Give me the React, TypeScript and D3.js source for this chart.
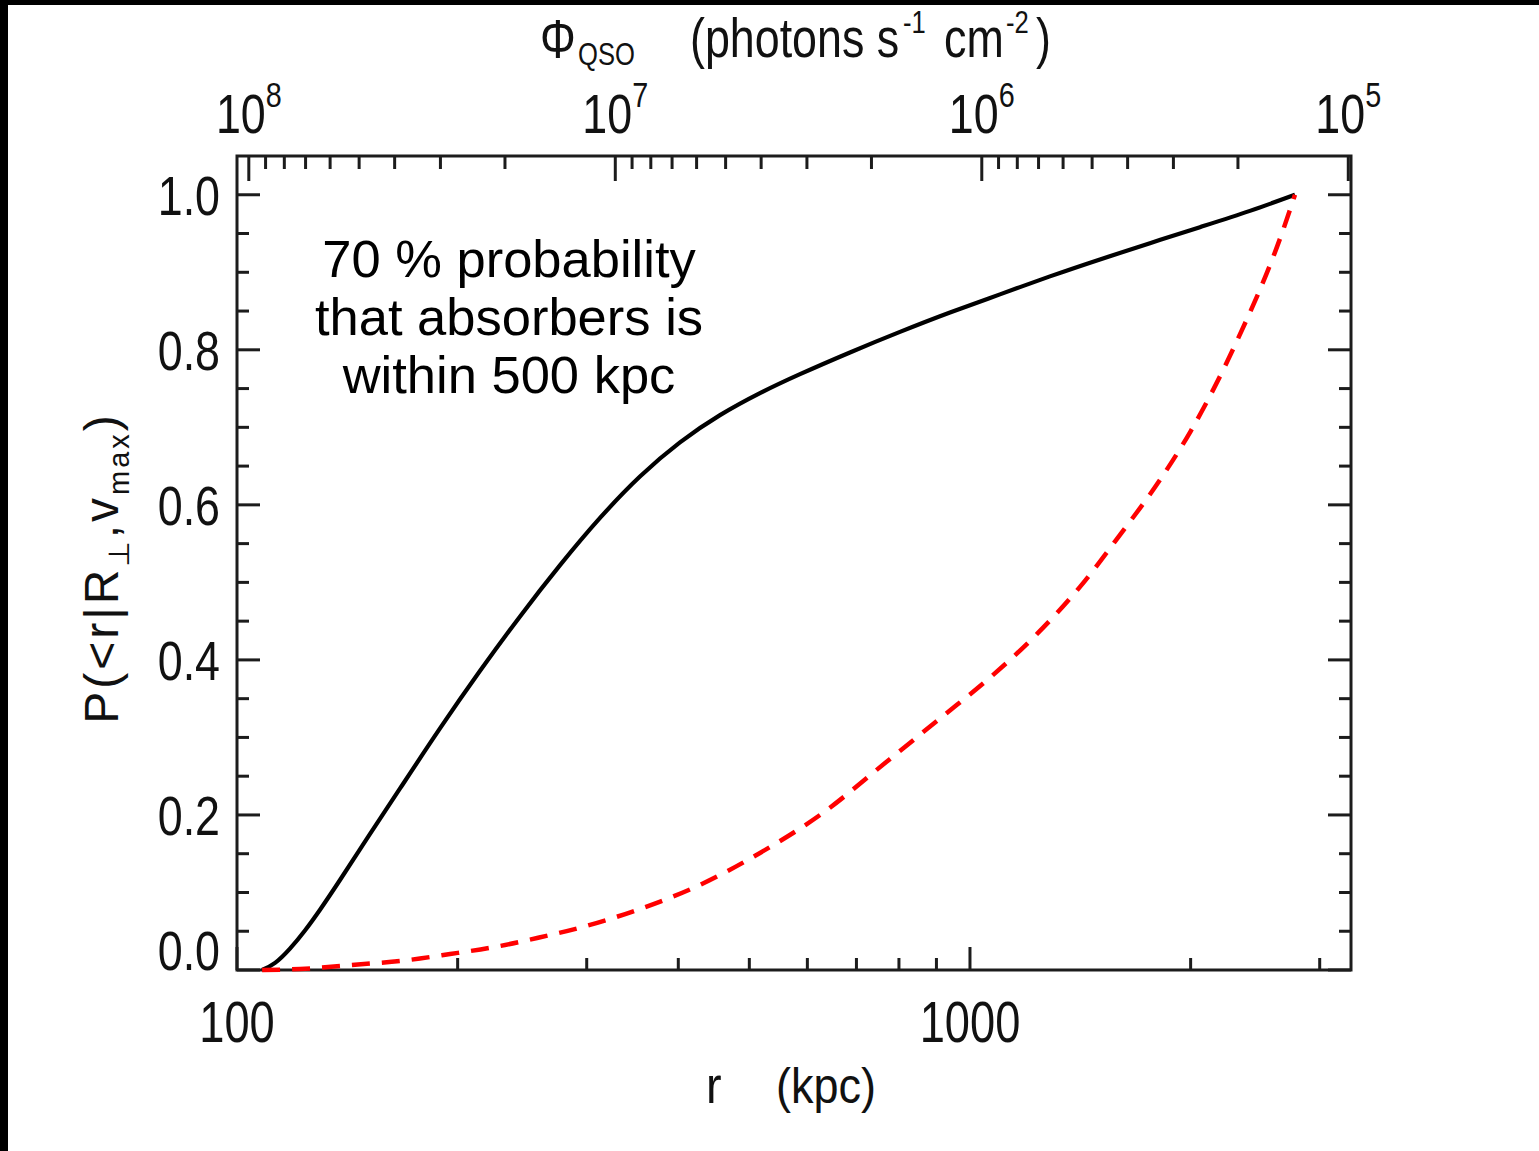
import React from 'react';
import * as d3 from 'd3';

const W = 1539;
const H = 1151;
const FRAME = { left: 237, right: 1351, top: 156, bottom: 970 };

// radial range (kpc) and probability range
const R_DOMAIN = [100, 3310];
const P_DOMAIN = [0, 1.05];
// Φ_QSO scales as r^-2: Φ·r² (photons s^-1 cm^-2 kpc^2)
const PHI_R2 = 1.077e12;

// cumulative probability for the absorber's distance (solid black)
const solidR = [108.2, 112.7, 118.1, 123.8, 129.8, 138.2, 151.8, 166.9, 189.2, 214.6, 243.3, 275.9, 312.8, 354.6, 402.1, 456.0, 517.0, 586.3, 685.9, 802.6, 939.1, 1098.7, 1285.5, 1504.3, 1760.1, 2059.4, 2409.6, 2776];
const solidP = [0.0, 0.0092, 0.0276, 0.051, 0.0778, 0.1161, 0.1752, 0.2342, 0.3116, 0.3859, 0.4561, 0.5222, 0.5831, 0.6365, 0.6806, 0.7157, 0.7441, 0.7686, 0.7966, 0.8231, 0.8481, 0.8715, 0.8947, 0.9166, 0.9375, 0.9582, 0.9792, 1.0];

// comparison distribution (dashed red)
const dashedR = [108.2, 121.9, 149.0, 166.9, 195.3, 228.5, 256.7, 303.1, 351.3, 428.1, 517.0, 624.4, 778.0, 915.6, 1071.5, 1234.5, 1412.8, 1602.0, 1805.1, 2001.7, 2306.8, 2656.9, 2776];
const dashedP = [0.0, 0.0013, 0.0077, 0.0116, 0.0206, 0.031, 0.0413, 0.0581, 0.0774, 0.1097, 0.151, 0.2, 0.2723, 0.3265, 0.3794, 0.4335, 0.4942, 0.5613, 0.6284, 0.6955, 0.809, 0.9471, 1.0];

// axis ticks
const rMajorTicks = [100, 1000];
const rTickLabels = ['100', '1000'];
const rMinorTicks = [200, 300, 400, 500, 600, 700, 800, 900, 2000, 3000];

const phiMajorTicks = [1e8, 1e7, 1e6, 1e5];
const phiExponents = ['8', '7', '6', '5'];
const phiMinorMultipliers = [2, 3, 4, 5, 6, 7, 8, 9];
const phiMinorDecades = [1e5, 1e6, 1e7];

const pMajorTicks = [0, 0.2, 0.4, 0.6, 0.8, 1.0];
const pTickLabels = ['0.0', '0.2', '0.4', '0.6', '0.8', '1.0'];
const pMinorTicks = [0.05, 0.1, 0.15, 0.25, 0.3, 0.35, 0.45, 0.5, 0.55, 0.65, 0.7, 0.75, 0.85, 0.9, 0.95];

const noteLines = ['70 % probability', 'that absorbers is', 'within 500 kpc'];

const FONT = "'Liberation Sans', Arial, Helvetica, 'DejaVu Sans', sans-serif";
const AXIS_COLOR = '#1c1c1c';
const NARROW = 0.8;

const MAJOR_LEN = 23;
const MINOR_LEN = 12;

export default function App() {
  const x = d3.scaleLog().domain(R_DOMAIN).range([FRAME.left, FRAME.right]);
  const y = d3.scaleLinear().domain(P_DOMAIN).range([FRAME.bottom, FRAME.top]);
  const xTop = d3
    .scaleLog()
    .domain([PHI_R2 / (R_DOMAIN[0] * R_DOMAIN[0]), PHI_R2 / (R_DOMAIN[1] * R_DOMAIN[1])])
    .range([FRAME.left, FRAME.right]);

  const phiMinorTicks = phiMinorDecades.flatMap((d) => phiMinorMultipliers.map((m) => m * d));

  const solidLine = d3
    .line<[number, number]>()
    .x((d) => x(d[0]))
    .y((d) => y(d[1]))
    .curve(d3.curveNatural);

  const dashedLine = d3
    .line<[number, number]>()
    .x((d) => x(d[0]))
    .y((d) => y(d[1]))
    .curve(d3.curveMonotoneX);

  const solidPath = solidLine(solidR.map((r, i) => [r, solidP[i]] as [number, number])) || '';
  const dashedPath = dashedLine(dashedR.map((r, i) => [r, dashedP[i]] as [number, number])) || '';

  const tickStyle = { stroke: AXIS_COLOR, strokeWidth: 3 };

  return (
    <svg
      width={W}
      height={H}
      viewBox={`0 0 ${W} ${H}`}
      style={{ position: 'absolute', left: 0, top: 0, display: 'block' }}
    >
      <rect x={0} y={0} width={W} height={H} fill="#ffffff" />
      <rect x={0} y={0} width={W} height={5} fill="#000000" />
      <rect x={0} y={0} width={8} height={H} fill="#000000" />

      {/* bottom axis ticks (r) */}
      {rMajorTicks.map((t) => (
        <line key={`rb${t}`} x1={x(t)} x2={x(t)} y1={FRAME.bottom} y2={FRAME.bottom - MAJOR_LEN} {...tickStyle} />
      ))}
      {rMinorTicks.map((t) => (
        <line key={`rbm${t}`} x1={x(t)} x2={x(t)} y1={FRAME.bottom} y2={FRAME.bottom - MINOR_LEN} {...tickStyle} />
      ))}

      {/* top axis ticks (Φ) */}
      {phiMajorTicks.map((t) => (
        <line key={`pt${t}`} x1={xTop(t)} x2={xTop(t)} y1={FRAME.top} y2={FRAME.top + MAJOR_LEN + 2} {...tickStyle} />
      ))}
      {phiMinorTicks.map((t) => (
        <line key={`ptm${t}`} x1={xTop(t)} x2={xTop(t)} y1={FRAME.top} y2={FRAME.top + MINOR_LEN + 1} {...tickStyle} />
      ))}

      {/* left and right ticks (P) */}
      {pMajorTicks.map((t) => (
        <g key={`py${t}`}>
          <line x1={FRAME.left} x2={FRAME.left + MAJOR_LEN} y1={y(t)} y2={y(t)} {...tickStyle} />
          <line x1={FRAME.right} x2={FRAME.right - MAJOR_LEN} y1={y(t)} y2={y(t)} {...tickStyle} />
        </g>
      ))}
      {pMinorTicks.map((t) => (
        <g key={`pym${t}`}>
          <line x1={FRAME.left} x2={FRAME.left + MINOR_LEN} y1={y(t)} y2={y(t)} {...tickStyle} />
          <line x1={FRAME.right} x2={FRAME.right - MINOR_LEN} y1={y(t)} y2={y(t)} {...tickStyle} />
        </g>
      ))}

      {/* frame */}
      <rect
        x={FRAME.left}
        y={FRAME.top}
        width={FRAME.right - FRAME.left}
        height={FRAME.bottom - FRAME.top}
        fill="none"
        stroke={AXIS_COLOR}
        strokeWidth={3}
      />

      {/* curves */}
      <path d={solidPath} fill="none" stroke="#000000" strokeWidth={4.2} strokeLinejoin="round" />
      <path d={dashedPath} fill="none" stroke="#ff0000" strokeWidth={4.5} strokeDasharray="18 12" />

      {/* y tick labels */}
      {pMajorTicks.map((t, i) => (
        <text
          key={`pl${t}`}
          transform={`translate(220, ${Math.min(y(t) + 20, FRAME.bottom)}) scale(${NARROW}, 1)`}
          textAnchor="end"
          fontFamily={FONT}
          fontSize={56}
          fill="#111"
        >
          {pTickLabels[i]}
        </text>
      ))}

      {/* bottom tick labels */}
      {rMajorTicks.map((t, i) => (
        <text
          key={`rl${t}`}
          transform={`translate(${x(t)}, 1042) scale(0.78, 1)`}
          textAnchor="middle"
          fontFamily={FONT}
          fontSize={58}
          fill="#111"
        >
          {rTickLabels[i]}
        </text>
      ))}

      {/* top tick labels */}
      {phiMajorTicks.map((t, i) => (
        <text
          key={`phl${t}`}
          transform={`translate(${xTop(t)}, 133) scale(${NARROW}, 1)`}
          textAnchor="middle"
          fontFamily={FONT}
          fontSize={56}
          fill="#111"
        >
          10
          <tspan dy={-26} fontSize={36}>
            {phiExponents[i]}
          </tspan>
        </text>
      ))}

      {/* top axis title */}
      <g fontFamily={FONT} fill="#111">
        <text transform={`translate(540, 58) scale(${NARROW}, 1)`} fontSize={56}>Φ</text>
        <text transform={`translate(578, 65) scale(${NARROW}, 1)`} fontSize={32}>QSO</text>
        <text transform={`translate(690, 57) scale(${NARROW}, 1)`} fontSize={56}>(photons s</text>
        <text transform={`translate(903, 33) scale(${NARROW}, 1)`} fontSize={32}>-1</text>
        <text transform={`translate(944, 57) scale(${NARROW}, 1)`} fontSize={56}>cm</text>
        <text transform={`translate(1006, 33) scale(${NARROW}, 1)`} fontSize={32}>-2</text>
        <text transform={`translate(1036, 57) scale(${NARROW}, 1)`} fontSize={56}>)</text>
      </g>

      {/* bottom axis title */}
      <g fontFamily={FONT} fill="#111">
        <text transform="translate(706, 1103) scale(0.9, 1)" fontSize={52}>r</text>
        <text transform="translate(776, 1103) scale(0.9, 1)" fontSize={50}>(kpc)</text>
      </g>

      {/* left axis title */}
      <text
        transform="translate(118, 568) rotate(-90)"
        textAnchor="middle"
        fontFamily={FONT}
        fontSize={48}
        letterSpacing={3}
        fill="#111"
      >
        P(&lt;r|R
        <tspan dy={11} fontSize={29}>⊥</tspan>
        <tspan dy={-11}>,v</tspan>
        <tspan dy={11} fontSize={29}>max</tspan>
        <tspan dy={-11}>)</tspan>
      </text>

      {/* annotation */}
      <text fontFamily={FONT} fontSize={52.5} fill="#000" textAnchor="middle">
        {noteLines.map((l, i) => (
          <tspan key={l} x={509} y={277 + i * 58}>
            {l}
          </tspan>
        ))}
      </text>
    </svg>
  );
}
